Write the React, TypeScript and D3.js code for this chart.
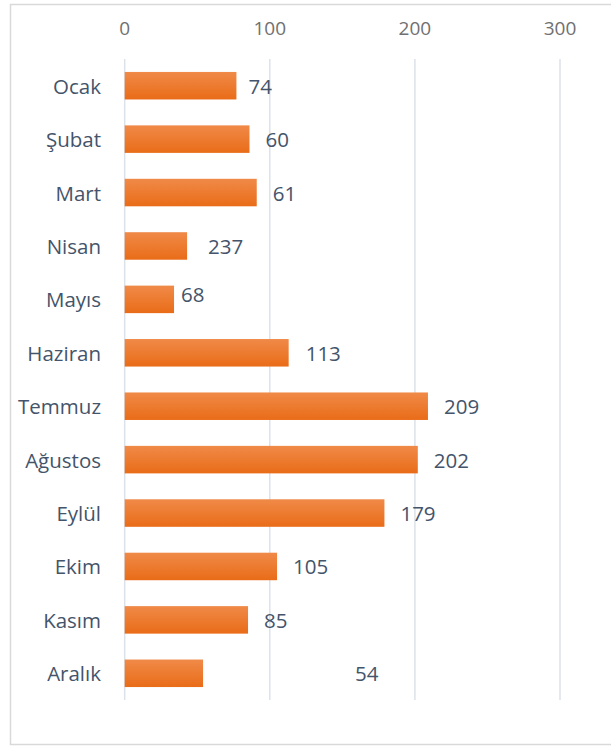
import React from "react";
import * as d3 from "d3";

const months = ["Ocak", "Şubat", "Mart", "Nisan", "Mayıs", "Haziran", "Temmuz", "Ağustos", "Eylül", "Ekim", "Kasım", "Aralık"];
const barValues = [77, 86, 91, 43, 34, 113, 209, 202, 179, 105, 85, 54];
const valueLabels = ["74", "60", "61", "237", "68", "113", "209", "202", "179", "105", "85", "54"];
const tickValues = [0, 100, 200, 300];
// label nudges (px) as seen in the reference
const labelDx = [-4, 0, 0, 5, -9, 1, 0, 0, 0, 0, 0, 136];
const labelDy = [0, 0, 0, 0, -5, 0, 0, 0, 0, 0, 0, 0];

const W = 611;
const H = 747;
const FONT = "'Open Sans', 'DejaVu Sans', sans-serif";

export default function App() {
  const x = d3.scaleLinear().domain([0, 300]).range([124.7, 560]);
  const y = d3.scaleBand<string>().domain(months).range([59, 700]).paddingInner(0.485).paddingOuter(0.2425);
  const bh = y.bandwidth();

  return (
    <svg width={W} height={H} style={{ position: "absolute", left: 0, top: 0, background: "#fff" }}>
      <defs>
        <linearGradient id="barGrad" x1="0" y1="0" x2="0" y2="1">
          <stop offset="0%" stopColor="#F08A48" />
          <stop offset="100%" stopColor="#E96C18" />
        </linearGradient>
      </defs>
      <rect x={10.5} y={4.5} width={640} height={740} fill="#fff" stroke="#D9D9D9" strokeWidth={1.5} />
      {tickValues.map((t) => (
        <g key={t}>
          <line x1={x(t)} x2={x(t)} y1={59} y2={700} stroke="#DCE2EA" strokeWidth={1.5} />
          <text x={x(t)} y={28} textAnchor="middle" dominantBaseline="central" fontFamily={FONT} fontSize={19} fill="#707070">
            {t}
          </text>
        </g>
      ))}
      {months.map((m, i) => {
        const yc = (y(m) as number) + bh / 2;
        return (
          <g key={m}>
            <rect x={x(0)} y={y(m)} width={x(barValues[i]) - x(0)} height={bh} fill="url(#barGrad)" />
            <text x={101} y={yc} textAnchor="end" dominantBaseline="central" fontFamily={FONT} fontSize={20.5} fill="#44546A">
              {m}
            </text>
            <text x={x(barValues[i]) + 16 + labelDx[i]} y={yc + labelDy[i]} dominantBaseline="central" fontFamily={FONT} fontSize={20.5} fill="#44546A">
              {valueLabels[i]}
            </text>
          </g>
        );
      })}
    </svg>
  );
}
